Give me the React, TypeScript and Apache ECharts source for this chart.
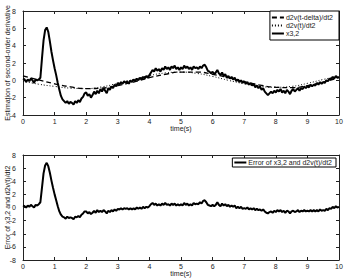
import React, { useEffect, useRef } from "react";
import * as echarts from "echarts";

// time grid step for the noisy estimate series (s)
const STEP = 0.05;
// smooth curves sampled every 0.5 s
const smoothTimes = [0, 0.5, 1, 1.5, 2, 2.5, 3, 3.5, 4, 4.5, 5, 5.5, 6, 6.5, 7, 7.5, 8, 8.5, 9, 9.5, 10];
const d2vDelayed = [0.5, 0.05, -0.4, -0.75, -0.95, -0.9, -0.6, -0.2, 0.3, 0.7, 0.95, 0.95, 0.7, 0.3, -0.15, -0.55, -0.8, -0.85, -0.6, -0.2, 0.3];
const d2vTrue = [-0.1, -0.45, -0.7, -0.9, -0.95, -0.75, -0.35, 0.1, 0.55, 0.85, 0.95, 0.8, 0.45, 0.0, -0.4, -0.7, -0.8, -0.7, -0.35, 0.1, 0.5];

// x3,2 estimate, one row per 0.5 s (10 samples each), plus final sample at t = 10
const x32 = [
  0.2, 0.1, -0.2, 0.1, -0.1, 0.2, 0.0, -0.3, 0.1, 0.0,
  0.1, 0.3, 2.5, 4.6, 5.8, 6.1, 5.6, 4.5, 3.3, 2.3,
  1.4, 0.6, -0.3, -1.1, -1.8, -2.2, -2.4, -2.6, -2.4, -2.7,
  -2.5, -2.6, -2.8, -2.4, -2.6, -2.3, -2.5, -2.1, -1.9, -1.5,
  -1.4, -1.8, -1.6, -2.0, -1.7, -1.3, -1.6, -1.2, -1.5, -1.0,
  -1.3, -0.9, -1.2, -1.5, -0.9, -1.1, -0.7, -0.9, -0.5, -0.7,
  -0.3, -0.5, -0.2, -0.4, -0.1, -0.3, -0.1, -0.4, 0.0, -0.2,
  0.1, -0.1, 0.2, 0.0, 0.3, 0.1, 0.4, 0.2, 0.5, 0.3,
  0.6, 0.9, 1.2, 1.0, 1.4, 1.1, 1.3, 1.0, 1.4, 1.2,
  1.6, 1.3, 1.5, 1.2, 1.6, 1.4, 1.7, 1.3, 1.5, 1.2,
  1.5, 1.3, 1.7, 1.4, 1.6, 1.3, 1.5, 1.2, 1.6, 1.4,
  1.5, 1.3, 1.6, 1.4, 1.7, 1.8, 1.5, 1.1, 1.0, 0.8,
  1.0, 0.7, 0.9, 1.2, 0.8, 0.6, 0.9, 0.5, 0.7, 0.3,
  0.5, 0.2, 0.4, 0.1, 0.3, -0.1, 0.1, -0.2, 0.0, -0.3,
  -0.1, -0.4, -0.2, -0.5, -0.3, -0.6, -0.4, -0.8, -0.6, -0.9,
  -0.7, -1.1, -0.9, -1.3, -1.5, -1.7, -1.5, -1.3, -1.5, -1.2,
  -1.4, -1.1, -1.3, -1.0, -1.4, -1.2, -1.5, -1.1, -1.3, -1.6,
  -1.2, -1.0, -1.3, -1.1, -0.9, -1.2, -0.9, -1.0, -0.7, -0.9,
  -0.7, -0.8, -0.5, -0.7, -0.5, -0.6, -0.3, -0.5, -0.2, -0.4,
  -0.2, -0.3, 0.0, -0.1, 0.2, 0.1, 0.4, 0.2, 0.5, 0.3,
  0.4,
];

// Error of x3,2 and d2v(t)/dt2, same sampling
const errX32 = [
  0.3, 0.2, 0.0, 0.3, 0.1, 0.4, 0.2, 0.0, 0.4, 0.3,
  0.5, 0.8, 3.0, 5.2, 6.4, 6.8, 6.3, 5.3, 4.1, 3.0,
  2.0, 1.1, 0.2, -0.6, -1.1, -1.4, -1.5, -1.7, -1.4, -1.6,
  -1.5, -1.6, -1.8, -1.4, -1.5, -1.3, -1.5, -1.1, -0.9, -0.6,
  -0.6, -0.9, -0.7, -1.0, -0.8, -0.5, -0.8, -0.4, -0.7, -0.5,
  -0.7, -0.4, -0.6, -0.9, -0.5, -0.7, -0.4, -0.6, -0.3, -0.5,
  -0.2, -0.3, -0.1, -0.3, -0.1, -0.2, -0.1, -0.3, -0.1, -0.3,
  -0.1, -0.3, 0.0, -0.2, 0.0, -0.2, 0.1, -0.1, 0.1, 0.0,
  0.2, 0.5, 0.7, 0.4, 0.6, 0.3, 0.5, 0.3, 0.6, 0.4,
  0.7, 0.4, 0.5, 0.3, 0.6, 0.4, 0.6, 0.3, 0.5, 0.3,
  0.5, 0.3, 0.7, 0.4, 0.6, 0.3, 0.5, 0.3, 0.7, 0.5,
  0.6, 0.5, 0.8, 0.6, 1.0, 1.1, 0.8, 0.4, 0.3, 0.2,
  0.4, 0.2, 0.4, 0.8, 0.4, 0.2, 0.6, 0.3, 0.5, 0.2,
  0.4, 0.1, 0.3, 0.1, 0.3, -0.1, 0.1, -0.1, 0.1, -0.2,
  -0.1, -0.2, 0.0, -0.3, -0.1, -0.3, -0.1, -0.4, -0.2, -0.4,
  -0.3, -0.5, -0.3, -0.6, -0.8, -0.9, -0.7, -0.6, -0.8, -0.5,
  -0.7, -0.4, -0.6, -0.4, -0.7, -0.5, -0.8, -0.5, -0.6, -0.9,
  -0.6, -0.5, -0.7, -0.6, -0.4, -0.7, -0.5, -0.6, -0.4, -0.6,
  -0.5, -0.6, -0.4, -0.6, -0.4, -0.6, -0.4, -0.6, -0.3, -0.5,
  -0.4, -0.5, -0.2, -0.4, -0.1, -0.2, 0.1, -0.1, 0.2, 0.0,
  0.1,
];

const xTicks = [0, 1, 2, 3, 4, 5, 6, 7, 8, 9, 10];
const topYTicks = [-4, -2, 0, 2, 4, 6, 8];
const bottomYTicks = [-8, -6, -4, -2, 0, 2, 4, 6, 8];

const FONT = "'Liberation Sans', Arial, Helvetica, sans-serif";
const AX = "#222";

export default function App() {
  const ref = useRef<HTMLDivElement>(null);
  useEffect(() => {
    if (!ref.current) return;
    const chart = echarts.init(ref.current, undefined, { renderer: "svg" });
    const pair = (vals: number[]) => vals.map((v, i) => [Number((i * STEP).toFixed(2)), v]);
    const smoothPair = (vals: number[]) => vals.map((v, i) => [smoothTimes[i], v]);

    const baseX = (gridIndex: number, top: boolean) => ({
      type: "value",
      gridIndex,
      position: top ? "top" : "bottom",
      min: xTicks[0],
      max: xTicks[xTicks.length - 1],
      interval: 1,
      name: top ? "" : "time(s)",
      nameLocation: "middle",
      nameGap: 10,
      nameMoveOverlap: false,
      nameTextStyle: { fontSize: 7, color: AX, fontFamily: FONT },
      axisLine: { show: true, onZero: false, lineStyle: { color: AX, width: 1 } },
      axisTick: { show: true, inside: true, length: 3, lineStyle: { color: AX } },
      axisLabel: { show: !top, fontSize: 7, color: AX, fontFamily: FONT, margin: 3 },
      splitLine: { show: false },
    });
    const baseY = (gridIndex: number, right: boolean, ticks: number[], name: string) => ({
      type: "value",
      gridIndex,
      position: right ? "right" : "left",
      min: ticks[0],
      max: ticks[ticks.length - 1],
      interval: 2,
      name: right ? "" : name,
      nameLocation: "middle",
      nameRotate: 90,
      nameGap: 12,
      nameMoveOverlap: false,
      nameTextStyle: { fontSize: 7, color: AX, fontFamily: FONT },
      axisLine: { show: true, onZero: false, lineStyle: { color: AX, width: 1 } },
      axisTick: { show: true, inside: true, length: 3, lineStyle: { color: AX } },
      axisLabel: { show: !right, fontSize: 7, color: AX, fontFamily: FONT, margin: 7 },
      splitLine: { show: false },
    });

    const legendCommon = {
      itemWidth: 12,
      itemHeight: 6,
      backgroundColor: "#fff",
      borderColor: "#000",
      borderWidth: 1,
      borderRadius: 0,
      itemStyle: { opacity: 0, color: "transparent", borderWidth: 0 },
      textStyle: { fontSize: 7, color: AX, fontFamily: FONT, padding: [0, 0, 0, -3] },
    };

    chart.setOption({
      animation: false,
      backgroundColor: "#fff",
      textStyle: { fontFamily: FONT },
      grid: [
        { left: 23, right: 7, top: 11, height: 104, containLabel: false, outerBoundsMode: "none" },
        { left: 23, right: 7, top: 155, height: 105, containLabel: false, outerBoundsMode: "none" },
      ],
      xAxis: [baseX(0, false), baseX(0, true), baseX(1, false), baseX(1, true)],
      yAxis: [
        baseY(0, false, topYTicks, "Estimation of second-order derivative"),
        baseY(0, true, topYTicks, ""),
        baseY(1, false, bottomYTicks, "Error of x3,2 and d2v(t)/dt2"),
        baseY(1, true, bottomYTicks, ""),
      ],
      legend: [
        {
          ...legendCommon,
          data: ["d2v(t-delta)/dt2", "d2v(t)/dt2", "x3,2"],
          orient: "vertical",
          right: 7,
          top: 11,
          padding: [3, 6, 3, 1],
          itemGap: 1,
        },
        {
          ...legendCommon,
          data: ["Error of x3,2 and d2v(t)/dt2"],
          orient: "horizontal",
          right: 10,
          top: 158,
          padding: [1, 4, 1, 1],
        },
      ],
      series: [
        {
          name: "d2v(t-delta)/dt2",
          type: "line",
          xAxisIndex: 0,
          yAxisIndex: 0,
          data: smoothPair(d2vDelayed),
          smooth: true,
          symbol: "none",
          color: "#000",
          lineStyle: { color: "#000", width: 1.3, type: [5, 3] },
          z: 3,
        },
        {
          name: "d2v(t)/dt2",
          type: "line",
          xAxisIndex: 0,
          yAxisIndex: 0,
          data: smoothPair(d2vTrue),
          smooth: true,
          symbol: "none",
          color: "#000",
          lineStyle: { color: "#000", width: 1, type: [1, 2] },
          z: 3,
        },
        {
          name: "x3,2",
          type: "line",
          xAxisIndex: 0,
          yAxisIndex: 0,
          data: pair(x32),
          symbol: "none",
          color: "#000",
          lineStyle: { color: "#000", width: 2 },
          z: 2,
        },
        {
          name: "Error of x3,2 and d2v(t)/dt2",
          type: "line",
          xAxisIndex: 2,
          yAxisIndex: 2,
          data: pair(errX32),
          symbol: "none",
          color: "#000",
          lineStyle: { color: "#000", width: 2 },
        },
      ],
    });
    return () => chart.dispose();
  }, []);
  return (
    <div
      ref={ref}
      style={{ position: "fixed", left: 0, top: 0, width: 346, height: 280, background: "#fff" }}
    />
  );
}
